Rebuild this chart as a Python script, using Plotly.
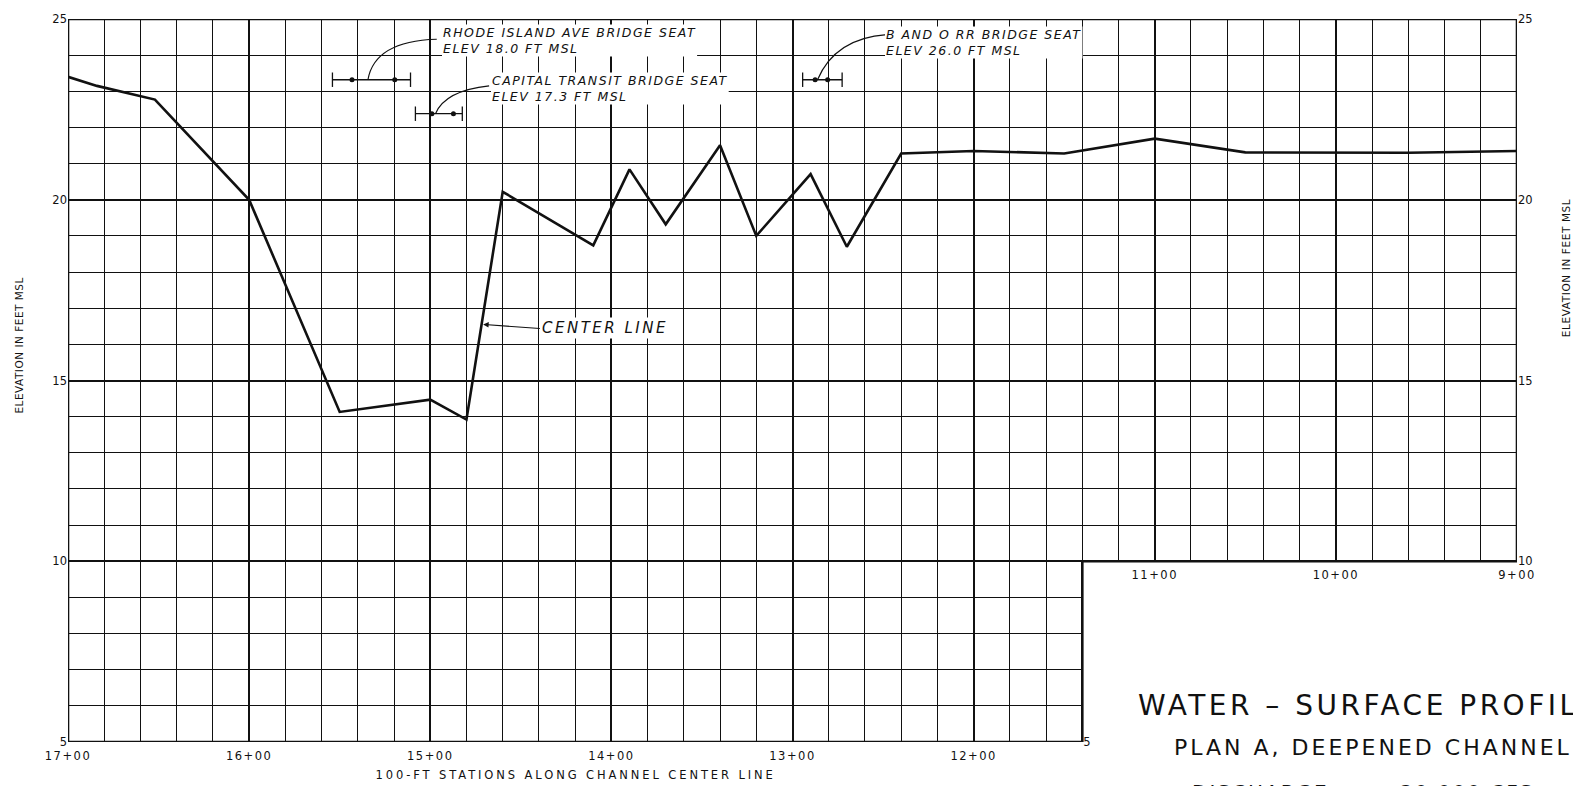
import json
import plotly.graph_objects as go

# water-surface profile along channel center line (station ft, elevation ft MSL)
station = [1700, 1684, 1652, 1600, 1550, 1500, 1480, 1460, 1410, 1390, 1370,
           1340, 1320, 1290, 1270, 1240, 1200, 1150, 1100, 1050, 960, 900]
elevation = [23.40, 23.15, 22.77, 20.00, 14.13, 14.47, 13.92, 20.22, 18.74, 20.84, 19.32,
             21.51, 19.00, 20.71, 18.70, 21.28, 21.35, 21.28, 21.69, 21.31, 21.30, 21.35]

# axis labels
station_ticks_low = [1700, 1600, 1500, 1400, 1300, 1200]
station_ticks_high = [1100, 1000, 900]
elev_ticks_left = [5, 10, 15, 20, 25]
elev_ticks_right = [10, 15, 20, 25]

# bridge seats (span markers, leaders, labels)
bridge_text = ["RHODE ISLAND AVE BRIDGE SEAT<br>ELEV 18.0 FT MSL",
               "CAPITAL TRANSIT BRIDGE SEAT<br>ELEV 17.3 FT MSL",
               "B AND O RR BRIDGE SEAT<br>ELEV 26.0 FT MSL"]
bridge_left = [1554.0, 1508.2, 1294.4]
bridge_right = [1510.9, 1482.3, 1272.6]
bridge_dot_a = [1543.2, 1499.1, 1287.5]
bridge_dot_b = [1519.6, 1487.2, 1280.6]
bridge_elev = [23.32, 22.38, 23.32]
leader_sta = [1534.4, 1497.1, 1286.2]
leader_ctrl_sta = [1530.7, 1491.8, 1276.5]
leader_ctrl_el = [24.39, 23.02, 24.47]
leader_end_sta = [1496.4, 1467.5, 1248.0]
leader_end_el = [24.44, 23.15, 24.57]
label_sta = [1493.4, 1466.3, 1249.2]
label_el = [24.85, 23.54, 24.80]

STA_MIN, STA_MAX = 900, 1700
EL_MIN, EL_MAX = 5, 25
CUT_STA, CUT_EL = 1140, 10   # lower-right corner of the sheet has no grid

FONT = "DejaVu Sans"
INK = "#111111"
W, H = 1573, 786
M = dict(l=68, r=56, t=13, b=44)


def sta_label(s):
    return f"{s // 100}+{s % 100:02d}"


def px(x):
    return (x - M["l"]) / (W - M["l"] - M["r"])


def py(y):
    return (H - M["b"] - y) / (H - M["t"] - M["b"])


fig = go.Figure()
spacing = []   # letter spacing per annotation (drafting lettering is wide)

fig.add_trace(go.Scatter(
    x=station, y=elevation, mode="lines",
    line=dict(color=INK, width=2.6), hoverinfo="skip",
))

# span markers  |--•-----•--|
for i in range(len(bridge_text)):
    e = bridge_elev[i]
    xs = [bridge_left[i], bridge_right[i], None,
          bridge_left[i], bridge_left[i], None,
          bridge_right[i], bridge_right[i]]
    ys = [e, e, None, e - 0.2, e + 0.2, None, e - 0.2, e + 0.2]
    fig.add_trace(go.Scatter(x=xs, y=ys, mode="lines",
                             line=dict(color=INK, width=1.3), hoverinfo="skip"))
    fig.add_trace(go.Scatter(x=[bridge_dot_a[i], bridge_dot_b[i]], y=[e, e], mode="markers",
                             marker=dict(color=INK, size=5), hoverinfo="skip"))
    fig.add_shape(
        type="path", xref="x", yref="y", layer="above",
        path=f"M {leader_sta[i]},{e} Q {leader_ctrl_sta[i]},{leader_ctrl_el[i]} "
             f"{leader_end_sta[i]},{leader_end_el[i]}",
        line=dict(color=INK, width=1.2),
    )
    fig.add_annotation(
        x=label_sta[i], y=label_el[i], xref="x", yref="y",
        text=bridge_text[i], showarrow=False, xanchor="left", yanchor="top",
        align="left", bgcolor="white", borderpad=0,
        font=dict(family=FONT, size=12.5, color=INK, style="italic"),
    )
    spacing.append(1.5)

# center line callout
fig.add_annotation(
    x=1470.8, y=16.55, xref="x", yref="y", ax=1439.5, ay=16.44, axref="x", ayref="y",
    text="CENTER LINE", showarrow=True, arrowhead=2, arrowsize=1, arrowwidth=1.1,
    arrowcolor=INK, xanchor="left", align="left", bgcolor="white",
    font=dict(family=FONT, size=15, color=INK, style="italic"),
)
spacing.append(2.5)

# blank out the grid in the lower-right corner, then draw the sheet outline
fig.add_shape(type="rect", xref="x", yref="y", layer="between",
              x0=CUT_STA, x1=STA_MIN, y0=EL_MIN, y1=CUT_EL,
              fillcolor="white", line=dict(width=0))
fig.add_shape(
    type="path", xref="x", yref="y", layer="between",
    path=f"M {STA_MAX},{EL_MIN} L {CUT_STA},{EL_MIN} L {CUT_STA},{CUT_EL} "
         f"L {STA_MIN},{CUT_EL} L {STA_MIN},{EL_MAX} L {STA_MAX},{EL_MAX} Z",
    line=dict(color=INK, width=2.6),
)

tick_font = dict(family=FONT, size=11.5, color=INK)
grid_major = dict(showgrid=True, gridcolor=INK, gridwidth=2)

fig.update_layout(
    width=W, height=H, margin=M,
    paper_bgcolor="white", plot_bgcolor="white", showlegend=False,
    xaxis=dict(range=[STA_MAX, STA_MIN], tickmode="array",
               tickvals=station_ticks_low,
               ticktext=[sta_label(s) for s in station_ticks_low],
               minor=dict(tickmode="linear", tick0=STA_MIN, dtick=20,
                          showgrid=True, gridcolor=INK, gridwidth=1.1),
               zeroline=False, showline=False, ticks="", tickfont=tick_font,
               ticklabelstandoff=5, fixedrange=True, **grid_major),
    xaxis2=dict(range=[STA_MAX, STA_MIN], overlaying="x", anchor="free",
                position=(CUT_EL - EL_MIN) / (EL_MAX - EL_MIN), side="bottom",
                tickmode="array", tickvals=station_ticks_high,
                ticktext=[sta_label(s) for s in station_ticks_high],
                zeroline=False, showline=False, ticks="", tickfont=tick_font,
                ticklabelstandoff=5, fixedrange=True, **grid_major),
    yaxis=dict(range=[EL_MIN, EL_MAX], tickmode="array", tickvals=elev_ticks_left,
               minor=dict(tickmode="linear", tick0=EL_MIN, dtick=1,
                          showgrid=True, gridcolor=INK, gridwidth=1.1),
               zeroline=False, showline=False, ticks="", tickfont=tick_font,
               fixedrange=True, **grid_major),
    yaxis2=dict(range=[EL_MIN, EL_MAX], overlaying="y", side="right",
                tickmode="array", tickvals=elev_ticks_right,
                showgrid=False, zeroline=False, showline=False, ticks="",
                tickfont=tick_font, fixedrange=True),
    yaxis3=dict(range=[EL_MIN, EL_MAX], overlaying="y", side="right", anchor="free",
                position=(STA_MAX - CUT_STA) / (STA_MAX - STA_MIN),
                tickmode="array", tickvals=[EL_MIN],
                showgrid=False, zeroline=False, showline=False, ticks="",
                tickfont=tick_font, fixedrange=True),
)

# empty traces so the overlay axes get drawn
fig.add_trace(go.Scatter(x=[None], y=[None], xaxis="x2", yaxis="y", hoverinfo="skip"))
fig.add_trace(go.Scatter(x=[None], y=[None], xaxis="x", yaxis="y2", hoverinfo="skip"))
fig.add_trace(go.Scatter(x=[None], y=[None], xaxis="x", yaxis="y3", hoverinfo="skip"))

# sheet lettering: text, x px, y px, anchor, angle, font, letter spacing
label_font = dict(family=FONT, size=10.5, color=INK)
texts = [
    ("100-FT STATIONS ALONG CHANNEL CENTER LINE", 575, 775, "center", 0,
     dict(family=FONT, size=11.5, color=INK), 2.9),
    ("ELEVATION IN FEET MSL", 19, 342, "center", -90, label_font, 0.5),
    ("ELEVATION IN FEET MSL", 1566, 264, "center", -90, label_font, 0.6),
    ("WATER – SURFACE PROFILE", 1136, 705, "left", 0, dict(family=FONT, size=28, color=INK), 3.5),
    ("PLAN A, DEEPENED CHANNEL", 1172, 748, "left", 0, dict(family=FONT, size=22, color=INK), 3.0),
    ("DISCHARGE", 1190, 792, "left", 0, dict(family=FONT, size=20, color=INK), 2.0),
    ("20,000 CFS", 1398, 792, "left", 0, dict(family=FONT, size=20, color=INK), 2.0),
]
for t, x, y, anchor, ang, f, sp in texts:
    fig.add_annotation(text=t, x=px(x), y=py(y), xref="paper", yref="paper",
                       xanchor=anchor, align=anchor, yanchor="middle", textangle=ang,
                       showarrow=False, font=f)
    spacing.append(sp)

post = """
var gd = document.querySelector('.js-plotly-plot');
var sp = %s;
gd.querySelectorAll('g.annotation').forEach(function (g) {
  var i = +g.getAttribute('data-index');
  var s = sp[i];
  if (!s) return;
  var t = g.querySelector('text.annotation-text');
  if (!t) return;
  t.style.letterSpacing = s + 'px';
  var r = g.querySelector('rect.bg');
  if (r && t.parentNode === r.parentNode) {
    var b = t.getBBox();
    r.setAttribute('x', b.x - 1);
    r.setAttribute('width', b.width + 2);
  }
});
gd.querySelectorAll('.xtick text, .x2tick text').forEach(function (t) {
  t.style.letterSpacing = '1.5px';
});
""" % json.dumps(spacing)

fig.write_html("out.html", config={"displayModeBar": False},
               post_script="document.body.style.margin='0';" + post)
